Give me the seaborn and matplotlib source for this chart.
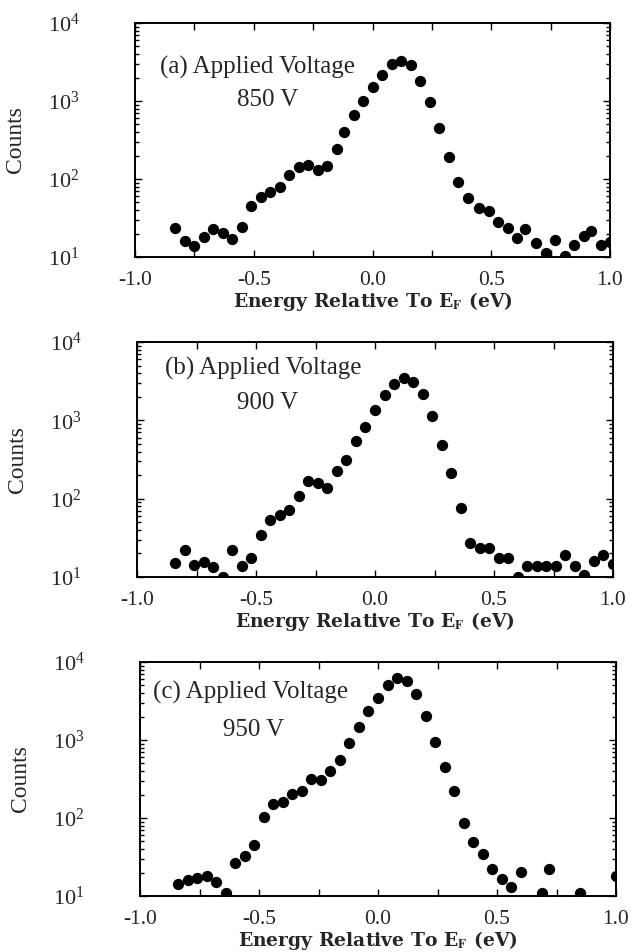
import matplotlib
matplotlib.use("Agg")
import matplotlib.pyplot as plt
import matplotlib.ticker as mticker
import seaborn as sns
import pandas as pd

# ---------------- data ----------------
energy_a = [-0.83, -0.79, -0.75, -0.71, -0.67, -0.63, -0.59, -0.55, -0.51, -0.47,
            -0.43, -0.39, -0.35, -0.31, -0.27, -0.23, -0.19, -0.15, -0.12, -0.08,
            -0.04, 0.00, 0.04, 0.08, 0.12, 0.16, 0.20, 0.24, 0.28, 0.32,
            0.36, 0.40, 0.45, 0.49, 0.53, 0.57, 0.61, 0.64, 0.69, 0.73,
            0.77, 0.81, 0.85, 0.89, 0.92, 0.96, 1.00]
counts_a = [23.3, 16.2, 13.8, 18.0, 22.6, 20.1, 17.2, 24.5, 44.6, 58.8,
            68.8, 79.7, 114, 144, 153, 130, 147, 242, 404, 661,
            1010, 1510, 2130, 2950, 3260, 2890, 1820, 980, 446, 190,
            90.6, 57.6, 42.1, 38.9, 27.8, 23.5, 17.5, 23.1, 15.3, 11.1,
            16.5, 10.3, 14.3, 18.6, 21.8, 14.3, 15.7]

energy_b = [-0.84, -0.80, -0.76, -0.72, -0.68, -0.64, -0.60, -0.56, -0.52, -0.48,
            -0.44, -0.40, -0.36, -0.32, -0.28, -0.24, -0.20, -0.16, -0.12, -0.08,
            -0.04, 0.00, 0.04, 0.08, 0.12, 0.16, 0.20, 0.24, 0.28, 0.32,
            0.36, 0.40, 0.44, 0.48, 0.52, 0.56, 0.60, 0.64, 0.68, 0.72,
            0.76, 0.80, 0.84, 0.88, 0.92, 0.96, 1.00]
counts_b = [15.3, 22.4, 14.4, 15.6, 13.4, 10.0, 22.0, 13.7, 17.5, 34.2,
            53.2, 61.7, 71.4, 108, 170, 157, 137, 223, 309, 541,
            818, 1350, 2100, 2880, 3430, 3110, 2140, 1150, 486, 211,
            76.5, 26.8, 23.8, 23.8, 17.7, 17.7, 10.0, 13.7, 13.7, 13.7,
            13.7, 19.0, 13.7, 10.7, 16.0, 19.0, 14.5]

energy_c = [-0.84, -0.80, -0.76, -0.72, -0.68, -0.64, -0.60, -0.56, -0.52, -0.48,
            -0.44, -0.40, -0.36, -0.32, -0.28, -0.24, -0.20, -0.16, -0.12, -0.08,
            -0.04, 0.00, 0.04, 0.08, 0.12, 0.16, 0.20, 0.24, 0.28, 0.32,
            0.36, 0.40, 0.44, 0.48, 0.52, 0.56, 0.60, 0.69, 0.72, 0.85,
            1.00]
counts_c = [14.1, 16.0, 17.2, 18.0, 15.0, 11.0, 26.2, 32.8, 44.5, 102,
            151, 160, 206, 219, 318, 303, 403, 551, 919, 1460,
            2360, 3500, 5030, 6310, 5720, 3940, 2060, 937, 453, 221,
            86.0, 49.1, 34.2, 22.2, 16.3, 13.2, 20.3, 11.0, 22.2, 11.0,
            18.0]

panel_labels = ["(a) Applied Voltage", "(b) Applied Voltage", "(c) Applied Voltage"]
voltages = ["850 V", "900 V", "950 V"]
x_tick_labels = ["-1.0", "-0.5", "0.0", "0.5", "1.0"]
y_tick_labels = [r"$\mathregular{10^{1}}$", r"$\mathregular{10^{2}}$",
                 r"$\mathregular{10^{3}}$", r"$\mathregular{10^{4}}$"]

# ---------------- style ----------------
sns.set_style("ticks")
plt.rcParams["font.family"] = ["Liberation Serif", "DejaVu Serif"]
plt.rcParams["mathtext.fontset"] = "stix"
plt.rcParams["axes.unicode_minus"] = False

fig = plt.figure(figsize=(6.34, 9.52), dpi=100)
W, H = 634, 952
boxes = [(135, 23, 610, 257), (137, 342, 613, 577), (140, 662, 616, 896)]
label_pos = [((0.053, 0.812), (0.215, 0.671)),
             ((0.059, 0.889), (0.210, 0.740)),
             ((0.027, 0.868), (0.174, 0.709))]

datasets = [(energy_a, counts_a), (energy_b, counts_b), (energy_c, counts_c)]

for i, ((x0, y0, x1, y1), (xs, ys)) in enumerate(zip(boxes, datasets)):
    ax = fig.add_axes([x0 / W, 1 - y1 / H, (x1 - x0) / W, (y1 - y0) / H])
    df = pd.DataFrame({"Energy": xs, "Counts": ys})
    sns.scatterplot(data=df, x="Energy", y="Counts", ax=ax, color="black",
                    s=66, linewidth=0, legend=False)
    ax.set_yscale("log")
    ax.set_xlim(-1.0, 1.0)
    ax.set_ylim(10, 1e4)

    ax.set_xticks([-1.0, -0.75, -0.5, -0.25, 0.0, 0.25, 0.5, 0.75, 1.0])
    ax.set_xticklabels([x_tick_labels[0], "", x_tick_labels[1], "", x_tick_labels[2],
                        "", x_tick_labels[3], "", x_tick_labels[4]])
    ax.set_yticks([10, 100, 1000, 10000])
    ax.set_yticklabels(y_tick_labels)
    ax.yaxis.set_minor_locator(mticker.LogLocator(base=10, subs=range(2, 10)))
    ax.yaxis.set_minor_formatter(mticker.NullFormatter())

    ax.tick_params(axis="both", which="both", direction="in", top=True, right=True,
                   color="black", width=1.0)
    ax.tick_params(axis="x", which="major", length=5, labelsize=15.5, pad=10)
    ax.tick_params(axis="y", which="major", length=5, labelsize=16, pad=40)
    ax.tick_params(axis="y", which="minor", length=3)
    for sp in ax.spines.values():
        sp.set_linewidth(1.4)
        sp.set_color("black")

    ax.set_xlabel(r"Energy Relative To E$_{\mathbf{F}}$ (eV)", fontsize=13.5,
                  fontweight="bold", family=["DejaVu Serif"], labelpad=0)
    ax.set_ylabel("Counts", fontsize=17, labelpad=0)
    ax.yaxis.set_label_coords(-0.229, 0.5)

    (tx, ty), (vx, vy) = label_pos[i]
    ax.text(tx, ty, panel_labels[i], transform=ax.transAxes, fontsize=18,
            ha="left", va="center")
    ax.text(vx, vy, voltages[i], transform=ax.transAxes, fontsize=18,
            ha="left", va="center")

fig.savefig("out.png", dpi=100, facecolor="white")
